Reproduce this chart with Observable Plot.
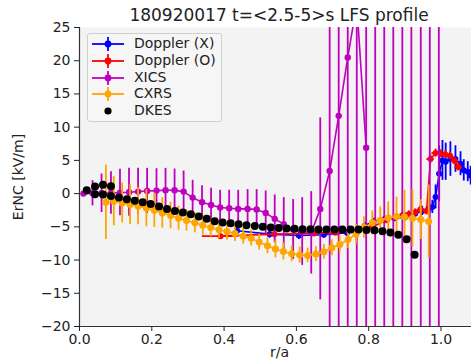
<!DOCTYPE html>
<html>
<head>
<meta charset="utf-8">
<script src="https://cdn.jsdelivr.net/npm/d3@7"></script>
<script src="https://cdn.jsdelivr.net/npm/@observablehq/plot@0.6"></script>
<style>
  html, body { margin: 0; padding: 0; background: #fff; overflow: hidden; }
  #wrap { position: relative; width: 471px; height: 359px; overflow: hidden; }
  #title { position: absolute; left: 0; top: 4px; width: 558px; text-align: center;
           font: 17px "DejaVu Sans"; color: #222; line-height: 22px; white-space: nowrap; }
  #legend { position: absolute; left: 87px; top: 33px; width: 135px; height: 89px; box-sizing: border-box;
            background: rgba(246,246,246,0.85); border: 1px solid #cfcfcf; border-radius: 3px;
            font: 14px "DejaVu Sans"; color: #222; }
  .row { position: absolute; left: 0; height: 16px; width: 130px; }
  .row svg { position: absolute; left: 2px; top: 0; }
  .row span { position: absolute; left: 46px; top: -1px; line-height: 17px; white-space: nowrap; }
  svg.plot { display: block; }
</style>
</head>
<body>
<div id="wrap">
  <div id="chart"></div>
  <div id="title"></div>
  <div id="legend"></div>
</div>
<script>
// ---------- text ----------
const titleText = "180920017 t=<2.5-5>s LFS profile";
const xLabel = "r/a";
const yLabel = "ErNC [kV/m]";
const xTicks = [0.0, 0.2, 0.4, 0.6, 0.8, 1.0];
const yTicks = [-20, -15, -10, -5, 0, 5, 10, 15, 20, 25];

// ---------- legend ----------
const seriesNames = ["Doppler (X)", "Doppler (O)", "XICS", "CXRS", "DKES"];
const seriesColors = ["#0000ff", "#ff0000", "#bf00bf", "#ffa500", "#000000"];

// ---------- Doppler (X) ----------
const dopXR   = [0.436, 0.526, 0.607, 0.676, 0.740, 0.790, 0.814, 0.842, 0.872, 0.902, 0.929, 0.948, 0.966, 0.976, 0.985, 0.995, 1.004, 1.013, 1.026, 1.040, 1.054, 1.063, 1.074, 1.082];
const dopXV   = [-5.6, -6.1, -6.3, -6.2, -5.9, -4.8, -4.2, -3.9, -3.7, -3.5, -3.0, -2.6, -2.3, -2.0, -0.5, 3.0, 5.0, 4.8, 5.2, 5.2, 4.5, 3.5, 3.3, 2.7];
const dopXErr = [0.6, 0.6, 0.6, 0.5, 0.5, 0.5, 0.5, 0.5, 0.5, 0.6, 0.6, 0.7, 0.8, 1.0, 1.8, 4.2, 3.0, 2.8, 2.6, 2.0, 1.8, 1.6, 1.5, 1.4];
const dopXXErr = [0.006, 0.006, 0.006, 0.006, 0.006, 0.006, 0.006, 0.006, 0.006, 0.006, 0.006, 0.006, 0.006, 0.006, 0.006, 0.006, 0.006, 0.006, 0.006, 0.006, 0.006, 0.006, 0.006, 0.006];

// ---------- Doppler (O) ----------
const dopOR   = [0.390, 0.539, 0.648, 0.708, 0.770, 0.810, 0.850, 0.893, 0.911, 0.929, 0.943, 0.960, 0.971, 0.985, 0.999, 1.012, 1.025, 1.038, 1.048];
const dopOV   = [-6.4, -6.1, -6.0, -5.9, -5.6, -5.0, -4.0, -3.3, -3.1, -2.8, -2.4, -2.6, 5.2, 6.1, 6.0, 5.9, 5.7, 4.9, 4.0];
const dopOErr = [0.3, 0.4, 0.4, 0.4, 0.4, 0.4, 0.4, 0.5, 0.5, 0.5, 0.6, 0.6, 0.6, 0.6, 0.6, 0.6, 0.6, 0.6, 0.6];
const dopOXErr = [0.05, 0.008, 0.008, 0.008, 0.008, 0.008, 0.008, 0.008, 0.008, 0.008, 0.008, 0.008, 0.01, 0.01, 0.01, 0.01, 0.01, 0.01, 0.01];

// ---------- XICS ----------
const xicsR  = [0.011, 0.036, 0.061, 0.087, 0.112, 0.137, 0.162, 0.187, 0.213, 0.238, 0.263, 0.288, 0.313, 0.339, 0.364, 0.389, 0.414, 0.439, 0.465, 0.490, 0.515, 0.540, 0.565, 0.591, 0.616, 0.641, 0.666, 0.692, 0.717, 0.742, 0.767, 0.793, 0.818, 0.843, 0.868, 0.893, 0.918, 0.944, 0.969, 0.994];
const xicsV  = [0.0, 0.05, 0.05, 0.1, 0.15, 0.2, 0.3, 0.4, 0.45, 0.5, 0.5, 0.3, -0.6, -1.3, -1.7, -2.1, -2.2, -2.3, -2.3, -2.4, -2.9, -3.8, -4.6, -5.4, -5.7, -5.9, -2.3, 3.4, 11.7, 20.5, 28.5, 6.9, null, null, null, null, null, null, null, null];
const xicsLo = [-0.2, -1.85, -2.85, -3.1, -3.35, -3.4, -3.2, -3.0, -2.85, -2.8, -2.7, -2.8, -3.2, -3.8, -4.2, -4.7, -4.9, -5.1, -5.2, -5.4, -6.2, -7.4, -8.6, -9.9, -10.8, -12.1, -16.0, -50, -50, -50, -50, -50, -50, -50, -50, -50, -50, -50, -50, -50];
const xicsHi = [0.2, 1.95, 2.95, 3.3, 3.65, 3.8, 3.8, 3.8, 3.75, 3.8, 3.7, 3.4, 2.0, 1.2, 0.8, 0.5, 0.5, 0.5, 0.6, 0.6, 0.4, -0.2, -0.6, -0.9, -0.6, 0.3, 11.4, 50, 50, 50, 50, 50, 50, 50, 50, 50, 50, 50, 50, 50];

// ---------- CXRS ----------
const cxrsR   = [0.073, 0.095, 0.118, 0.140, 0.162, 0.185, 0.207, 0.229, 0.252, 0.274, 0.296, 0.319, 0.341, 0.363, 0.386, 0.408, 0.430, 0.453, 0.475, 0.497, 0.520, 0.542, 0.564, 0.587, 0.609, 0.631, 0.654, 0.676, 0.698, 0.720, 0.743, 0.765, 0.787, 0.810, 0.832, 0.854, 0.877, 0.899, 0.921, 0.944, 0.966];
const cxrsV   = [-1.3, -1.15, -1.4, -1.65, -1.9, -2.2, -2.5, -2.9, -3.3, -3.7, -4.05, -4.4, -4.75, -5.1, -5.45, -5.7, -6.0, -6.4, -6.7, -7.3, -7.85, -8.35, -8.7, -9.05, -9.25, -9.3, -9.1, -8.75, -8.15, -7.65, -6.9, -6.1, -5.1, -4.4, -4.0, -3.65, -3.45, -3.5, -3.7, -3.9, -4.2];
const cxrsErr = [5.6, 3.7, 3.0, 3.0, 2.8, 2.8, 2.6, 2.3, 2.0, 1.8, 1.6, 1.5, 1.5, 1.4, 1.3, 1.3, 1.2, 1.2, 1.2, 1.2, 1.2, 1.3, 1.3, 1.2, 1.2, 1.1, 1.1, 1.1, 1.2, 1.3, 1.4, 1.5, 1.6, 1.8, 2.0, 2.4, 2.9, 4.0, 4.3, 3.0, 5.5];

// ---------- DKES ----------
const dkesR = [0.020, 0.043, 0.065, 0.087,
  0.043, 0.065, 0.087, 0.109, 0.131, 0.153, 0.175, 0.197, 0.220, 0.242, 0.264, 0.286, 0.308, 0.330, 0.352, 0.374, 0.396, 0.418, 0.440, 0.462, 0.485, 0.507, 0.529, 0.551, 0.573, 0.595, 0.617, 0.639, 0.661, 0.683, 0.705, 0.727, 0.750, 0.772, 0.794, 0.816, 0.838, 0.860, 0.882, 0.905, 0.927];
const dkesV = [0.5, 1.07, 1.33, 1.1,
  -0.08, -0.15, -0.35, -0.58, -0.85, -1.08, -1.3, -1.58, -1.94, -2.3, -2.6, -2.85, -3.1, -3.45, -3.8, -4.15, -4.35, -4.45, -4.6, -4.75, -4.86, -5.0, -5.1, -5.16, -5.26, -5.3, -5.36, -5.38, -5.4, -5.4, -5.42, -5.4, -5.4, -5.4, -5.46, -5.5, -5.66, -5.87, -6.2, -6.86, -9.2];

// ---------- tables ----------
const dopX = dopXR.map((r, i) => ({r, v: dopXV[i], lo: dopXV[i] - dopXErr[i], hi: dopXV[i] + dopXErr[i], x1: r - dopXXErr[i], x2: r + dopXXErr[i]}));
const dopO = dopOR.map((r, i) => ({r, v: dopOV[i], lo: dopOV[i] - dopOErr[i], hi: dopOV[i] + dopOErr[i], x1: r - dopOXErr[i], x2: r + dopOXErr[i]}));
const xics = xicsR.map((r, i) => ({r, v: xicsV[i], lo: xicsLo[i], hi: xicsHi[i]}));
const xicsPts = xics.filter(d => d.v !== null);
const cxrs = cxrsR.map((r, i) => ({r, v: cxrsV[i], lo: cxrsV[i] - cxrsErr[i], hi: cxrsV[i] + cxrsErr[i]}));
const dkes = dkesR.map((r, i) => ({r, v: dkesV[i]}));

function errSeries(data, color, opts = {}) {
  const m = [
    Plot.line(data, {x: "r", y: "v", stroke: color, strokeWidth: 1.6, clip: true}),
    Plot.ruleX(data, {x: "r", y1: "lo", y2: "hi", stroke: color, strokeWidth: 1.8, clip: true}),
  ];
  if (opts.xerr) m.push(Plot.ruleY(data, {y: "v", x1: "x1", x2: "x2", stroke: color, strokeWidth: 1.8, clip: true}));
  m.push(Plot.dot(opts.pts || data, {x: "r", y: "v", r: opts.r || 3.2, fill: color, stroke: "none", clip: true}));
  return m;
}

const chart = Plot.plot({
  width: 471,
  height: 359,
  marginLeft: 79,
  marginRight: -8,
  marginTop: 27,
  marginBottom: 33,
  x: {domain: [0, 1.1065]},
  y: {domain: [-20, 25]},
  style: {fontFamily: "DejaVu Sans", fontSize: "14px", color: "#222", background: "transparent", overflow: "hidden"},
  marks: [
    Plot.frame({fill: "#f3f3f3", stroke: "none"}),
    ...errSeries(dopX, seriesColors[0], {xerr: true, r: 3}),
    ...errSeries(dopO, seriesColors[1], {xerr: true, r: 3}),
    Plot.line(xicsPts, {x: "r", y: "v", stroke: seriesColors[2], strokeWidth: 1.6, clip: true}),
    Plot.ruleX(xics, {x: "r", y1: "lo", y2: "hi", stroke: seriesColors[2], strokeWidth: 1.8, clip: true}),
    Plot.dot(xicsPts, {x: "r", y: "v", r: 3.2, fill: seriesColors[2], stroke: "none", clip: true}),
    ...errSeries(cxrs, seriesColors[3], {r: 3.5}),
    Plot.dot(dkes, {x: "r", y: "v", r: 4, fill: seriesColors[4], stroke: "none", clip: true}),
    Plot.ruleX([0], {stroke: "#333", strokeWidth: 1.2}),
    Plot.ruleY([-20], {stroke: "#333", strokeWidth: 1.2}),
    Plot.axisX({ticks: xTicks, tickFormat: d3.format(".1f"), tickSize: 5, tickPadding: 3,
                label: xLabel, labelAnchor: "center", labelOffset: 30, labelArrow: "none"}),
    Plot.axisY({ticks: yTicks, tickFormat: d3.format("d"), tickSize: 5, tickPadding: 4,
                label: yLabel, labelAnchor: "center", labelOffset: 66, labelArrow: "none"})
  ]
});
chart.classList.add("plot");
document.getElementById("chart").appendChild(chart);

document.getElementById("title").textContent = titleText;

// legend
const leg = document.getElementById("legend");
const rowTops = [10, 27, 44, 60, 77];
seriesNames.forEach((name, i) => {
  const row = document.createElement("div");
  row.className = "row";
  row.style.top = (rowTops[i] - 8) + "px";
  const c = seriesColors[i];
  const isDot = i === 4;
  row.innerHTML = `<svg width="40" height="16">` +
    (isDot ? `<circle cx="18" cy="8" r="3.6" fill="${c}"/>` :
      `<line x1="2" y1="8" x2="34" y2="8" stroke="${c}" stroke-width="1.8"/>` +
      `<line x1="18" y1="1" x2="18" y2="15" stroke="${c}" stroke-width="1.8"/>` +
      `<circle cx="18" cy="8" r="3.4" fill="${c}"/>`) +
    `</svg><span>${name}</span>`;
  leg.appendChild(row);
});
</script>
</body>
</html>
